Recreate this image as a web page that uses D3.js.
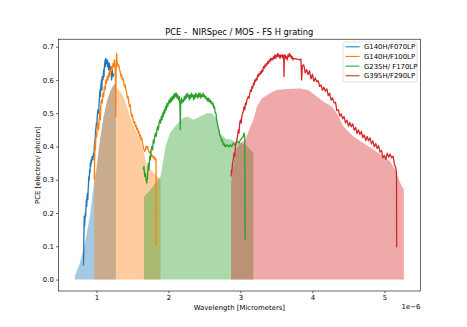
<!DOCTYPE html>
<html><head><meta charset="utf-8">
<script src="https://cdn.jsdelivr.net/npm/d3@7"></script>
<style>body{margin:0;background:#fff}text{font-family:"DejaVu Sans",sans-serif;fill:#000;white-space:pre}</style>
</head><body><svg id="c" width="467" height="327"></svg>
<script>
const seriesNames = ["G140H/F070LP","G140H/F100LP","G235H/ F170LP","G395H/F290LP"];
const seriesColors = ["#1f77b4","#ff7f0e","#2ca02c","#d62728"];
const xTicks = [1,2,3,4,5];
const yTicks = [0,0.1,0.2,0.3,0.4,0.5,0.6,0.7];

// smooth PCE (filled) curves, x in micrometers
const fillF070 = [[0.70,0],[0.70,0.01],[0.77,0.05],[0.84,0.11],[0.91,0.19],[0.96,0.28],[1.00,0.33],[1.05,0.42],[1.10,0.49],[1.15,0.54],[1.20,0.57],[1.25,0.59],[1.27,0.585],[1.27,0]];
const fillF100 = [[0.97,0],[0.97,0.30],[1.00,0.34],[1.05,0.42],[1.10,0.49],[1.15,0.54],[1.20,0.57],[1.25,0.585],[1.30,0.572],[1.35,0.56],[1.40,0.535],[1.45,0.50],[1.50,0.47],[1.55,0.445],[1.60,0.425],[1.65,0.39],[1.70,0.34],[1.75,0.33],[1.80,0.32],[1.85,0.31],[1.89,0.30],[1.89,0]];
const fillF170 = [[1.66,0],[1.66,0.25],[1.75,0.27],[1.85,0.30],[1.89,0.31],[1.93,0.36],[1.96,0.40],[2.02,0.44],[2.09,0.46],[2.19,0.484],[2.26,0.49],[2.35,0.48],[2.44,0.49],[2.53,0.50],[2.60,0.50],[2.67,0.484],[2.72,0.44],[2.79,0.424],[2.88,0.42],[2.95,0.41],[3.02,0.41],[3.10,0.40],[3.18,0.38],[3.18,0]];
const fillF290 = [[2.87,0],[2.87,0.29],[2.93,0.39],[3.00,0.41],[3.07,0.42],[3.12,0.45],[3.18,0.48],[3.23,0.52],[3.30,0.545],[3.41,0.56],[3.50,0.57],[3.64,0.573],[3.83,0.574],[3.94,0.57],[4.06,0.55],[4.15,0.535],[4.27,0.52],[4.34,0.50],[4.43,0.46],[4.57,0.43],[4.71,0.41],[4.85,0.39],[4.99,0.37],[5.08,0.355],[5.15,0.33],[5.22,0.29],[5.27,0.27],[5.27,0]];

// measured (noisy) PCE curves
const lineF070 = [[0.820,0.042],[0.825,0.12],[0.830,0.19],[0.835,0.16],[0.840,0.18],[0.845,0.20],[0.850,0.19],[0.855,0.22],[0.860,0.24],[0.865,0.22],[0.870,0.25],[0.875,0.26],[0.880,0.24],[0.885,0.27],[0.890,0.29],[0.895,0.31],[0.900,0.30],[0.905,0.33],[0.910,0.32],[0.915,0.35],[0.920,0.34],[0.925,0.36],[0.930,0.35],[0.940,0.37],[0.950,0.36],[0.960,0.38],[0.965,0.37],[0.970,0.40],[0.980,0.42],[0.990,0.45],[1.000,0.47],[1.005,0.46],[1.010,0.49],[1.020,0.51],[1.030,0.50],[1.040,0.54],[1.050,0.57],[1.055,0.55],[1.060,0.58],[1.070,0.60],[1.075,0.57],[1.080,0.61],[1.090,0.60],[1.100,0.63],[1.105,0.61],[1.110,0.64],[1.120,0.66],[1.125,0.64],[1.130,0.665],[1.140,0.65],[1.150,0.66],[1.155,0.64],[1.160,0.655],[1.170,0.63],[1.180,0.65],[1.190,0.62],[1.200,0.64],[1.210,0.60],[1.220,0.63],[1.230,0.61],[1.240,0.62]];
const lineF100 = [[0.970,0.30],[0.975,0.36],[0.980,0.41],[0.985,0.39],[0.990,0.42],[1.000,0.44],[1.005,0.43],[1.010,0.46],[1.020,0.47],[1.030,0.45],[1.040,0.49],[1.050,0.51],[1.055,0.48],[1.060,0.52],[1.070,0.54],[1.080,0.53],[1.090,0.56],[1.100,0.55],[1.110,0.58],[1.120,0.57],[1.130,0.60],[1.140,0.59],[1.150,0.61],[1.160,0.60],[1.170,0.62],[1.180,0.61],[1.190,0.63],[1.200,0.62],[1.210,0.64],[1.220,0.63],[1.230,0.65],[1.240,0.64],[1.250,0.66],[1.260,0.63],[1.265,0.59],[1.268,0.49],[1.272,0.62],[1.280,0.68],[1.285,0.66],[1.290,0.65],[1.300,0.64],[1.310,0.645],[1.320,0.63],[1.330,0.625],[1.340,0.61],[1.350,0.615],[1.360,0.60],[1.370,0.605],[1.380,0.59],[1.390,0.58],[1.400,0.585],[1.410,0.57],[1.420,0.56],[1.430,0.545],[1.440,0.55],[1.450,0.53],[1.460,0.52],[1.470,0.525],[1.480,0.50],[1.490,0.49],[1.500,0.495],[1.510,0.48],[1.520,0.47],[1.530,0.475],[1.540,0.46],[1.550,0.465],[1.560,0.45],[1.570,0.455],[1.580,0.44],[1.590,0.445],[1.600,0.43],[1.610,0.435],[1.620,0.42],[1.630,0.425],[1.640,0.41],[1.650,0.40],[1.660,0.39],[1.670,0.385],[1.680,0.39],[1.690,0.40],[1.700,0.395],[1.710,0.40],[1.720,0.39],[1.730,0.385],[1.740,0.38],[1.750,0.385],[1.760,0.37],[1.770,0.375],[1.780,0.37],[1.790,0.365],[1.800,0.37],[1.810,0.36],[1.820,0.365],[1.828,0.36],[1.830,0.10]];
const lineF170 = [[1.650,0.33],[1.660,0.34],[1.670,0.31],[1.680,0.32],[1.690,0.30],[1.700,0.29],[1.710,0.31],[1.720,0.35],[1.730,0.33],[1.740,0.37],[1.750,0.36],[1.760,0.39],[1.770,0.40],[1.780,0.39],[1.790,0.42],[1.800,0.41],[1.810,0.43],[1.820,0.44],[1.830,0.43],[1.840,0.45],[1.850,0.46],[1.860,0.45],[1.870,0.47],[1.880,0.48],[1.890,0.47],[1.900,0.49],[1.910,0.48],[1.920,0.50],[1.930,0.49],[1.940,0.51],[1.950,0.50],[1.960,0.52],[1.970,0.51],[1.980,0.53],[1.990,0.52],[2.000,0.53],[2.010,0.54],[2.020,0.53],[2.030,0.545],[2.040,0.535],[2.050,0.55],[2.060,0.54],[2.070,0.555],[2.080,0.545],[2.090,0.56],[2.100,0.55],[2.110,0.56],[2.120,0.545],[2.130,0.555],[2.140,0.54],[2.150,0.55],[2.160,0.52],[2.165,0.45],[2.170,0.53],[2.180,0.545],[2.190,0.53],[2.200,0.54],[2.210,0.535],[2.220,0.55],[2.230,0.54],[2.240,0.555],[2.250,0.545],[2.260,0.56],[2.270,0.55],[2.280,0.555],[2.290,0.54],[2.300,0.555],[2.310,0.545],[2.320,0.56],[2.330,0.55],[2.340,0.555],[2.350,0.54],[2.360,0.555],[2.370,0.545],[2.380,0.56],[2.390,0.55],[2.400,0.555],[2.410,0.545],[2.420,0.56],[2.430,0.55],[2.440,0.56],[2.450,0.545],[2.460,0.555],[2.470,0.55],[2.480,0.56],[2.490,0.55],[2.500,0.555],[2.510,0.545],[2.520,0.55],[2.530,0.54],[2.540,0.545],[2.550,0.535],[2.560,0.545],[2.570,0.535],[2.580,0.54],[2.590,0.53],[2.600,0.535],[2.610,0.525],[2.620,0.53],[2.630,0.515],[2.640,0.52],[2.650,0.50],[2.660,0.50],[2.670,0.48],[2.680,0.47],[2.690,0.455],[2.700,0.45],[2.710,0.435],[2.720,0.43],[2.730,0.425],[2.740,0.415],[2.750,0.42],[2.760,0.405],[2.770,0.41],[2.780,0.40],[2.790,0.405],[2.800,0.40],[2.820,0.405],[2.840,0.398],[2.860,0.405],[2.880,0.40],[2.900,0.41],[2.920,0.405],[2.940,0.41],[2.960,0.415],[2.980,0.41],[3.000,0.42],[3.020,0.425],[3.040,0.43],[3.050,0.44],[3.060,0.43],[3.065,0.12]];
const lineF290 = [[2.870,0.31],[2.875,0.33],[2.880,0.32],[2.890,0.35],[2.900,0.36],[2.910,0.38],[2.920,0.37],[2.930,0.40],[2.940,0.41],[2.950,0.42],[2.960,0.43],[2.970,0.45],[2.980,0.44],[2.990,0.47],[3.000,0.48],[3.010,0.47],[3.020,0.49],[3.030,0.50],[3.040,0.505],[3.050,0.52],[3.060,0.51],[3.070,0.53],[3.080,0.525],[3.090,0.54],[3.100,0.545],[3.110,0.55],[3.120,0.545],[3.130,0.56],[3.140,0.57],[3.150,0.565],[3.160,0.58],[3.170,0.575],[3.180,0.59],[3.190,0.585],[3.200,0.60],[3.210,0.595],[3.220,0.605],[3.230,0.60],[3.240,0.615],[3.250,0.61],[3.260,0.62],[3.270,0.615],[3.280,0.625],[3.290,0.62],[3.300,0.63],[3.310,0.625],[3.320,0.64],[3.330,0.635],[3.340,0.645],[3.350,0.64],[3.360,0.65],[3.370,0.645],[3.380,0.655],[3.390,0.65],[3.400,0.66],[3.410,0.655],[3.420,0.665],[3.430,0.66],[3.440,0.665],[3.450,0.66],[3.460,0.67],[3.470,0.665],[3.480,0.675],[3.490,0.665],[3.500,0.675],[3.510,0.67],[3.520,0.68],[3.530,0.67],[3.540,0.675],[3.550,0.665],[3.560,0.675],[3.570,0.67],[3.580,0.675],[3.590,0.665],[3.600,0.675],[3.605,0.61],[3.610,0.67],[3.620,0.675],[3.630,0.665],[3.640,0.67],[3.650,0.66],[3.660,0.675],[3.670,0.67],[3.680,0.68],[3.690,0.67],[3.700,0.675],[3.710,0.665],[3.720,0.67],[3.730,0.66],[3.740,0.665],[3.830,0.66],[3.840,0.663],[3.850,0.60],[3.860,0.643],[3.880,0.645],[3.900,0.621],[3.920,0.631],[3.940,0.616],[3.960,0.628],[3.980,0.603],[4.000,0.617],[4.020,0.596],[4.040,0.606],[4.060,0.594],[4.080,0.598],[4.100,0.581],[4.120,0.585],[4.140,0.569],[4.160,0.578],[4.180,0.566],[4.200,0.573],[4.220,0.553],[4.240,0.56],[4.260,0.539],[4.280,0.546],[4.300,0.531],[4.320,0.533],[4.340,0.508],[4.360,0.51],[4.380,0.491],[4.400,0.498],[4.420,0.483],[4.440,0.49],[4.460,0.471],[4.480,0.479],[4.500,0.461],[4.520,0.472],[4.540,0.459],[4.560,0.468],[4.580,0.449],[4.600,0.457],[4.620,0.439],[4.640,0.45],[4.660,0.436],[4.680,0.445],[4.700,0.427],[4.720,0.435],[4.740,0.418],[4.760,0.43],[4.780,0.417],[4.800,0.426],[4.820,0.408],[4.840,0.417],[4.860,0.399],[4.880,0.409],[4.900,0.394],[4.920,0.402],[4.940,0.383],[4.960,0.388],[4.980,0.366],[5.000,0.373],[5.020,0.361],[5.040,0.38],[5.060,0.368],[5.080,0.377],[5.100,0.366],[5.120,0.371],[5.140,0.346],[5.160,0.335],[5.168,0.32],[5.170,0.097]];

const fills = [fillF070, fillF100, fillF170, fillF290];
const lines = [lineF070, lineF100, lineF170, lineF290];

const svg = d3.select("#c");
const L = 58.4, R = 420.3, T = 39.2, B = 291;
const x = d3.scaleLinear().domain([0.4715, 5.4985]).range([L, R]);
const y = d3.scaleLinear().domain([-0.0344, 0.7224]).range([B, T]);

const area = d3.area().x(d => x(d[0])).y0(y(0)).y1(d => y(d[1]));
const line = d3.line().x(d => x(d[0])).y(d => y(d[1]));

const plot = svg.append("g");
fills.forEach((f, i) => {
  plot.append("path").attr("d", area(f)).attr("fill", seriesColors[i]).attr("fill-opacity", 0.4);
});
lines.forEach((l, i) => {
  plot.append("path").attr("d", line(l)).attr("fill", "none").attr("stroke", seriesColors[i])
    .attr("stroke-width", 1.3).attr("stroke-linejoin", "round");
});

const fs = 6.9;
const xAxis = svg.append("g").attr("transform", `translate(0,${B})`)
  .call(d3.axisBottom(x).tickValues(xTicks).tickFormat(d3.format("d")).tickSize(2.4).tickPadding(2.2));
const yAxis = svg.append("g").attr("transform", `translate(${L},0)`)
  .call(d3.axisLeft(y).tickValues(yTicks).tickFormat(d3.format(".1f")).tickSize(2.4).tickPadding(2.2));
[xAxis, yAxis].forEach(a => {
  a.select(".domain").remove();
  a.selectAll(".tick line").attr("stroke", "#000").attr("stroke-width", 0.6);
  a.selectAll(".tick text").attr("font-size", fs).attr("font-family", "DejaVu Sans").attr("fill", "#000");
});

svg.append("rect").attr("x", L).attr("y", T).attr("width", R - L).attr("height", B - T)
  .attr("fill", "none").attr("stroke", "#000").attr("stroke-width", 0.6);

svg.append("text").attr("x", (L + R) / 2).attr("y", 35).attr("text-anchor", "middle")
  .attr("font-size", 8.3).text("PCE -  NIRSpec / MOS - FS H grating");
svg.append("text").attr("x", (L + R) / 2).attr("y", 310).attr("text-anchor", "middle")
  .attr("font-size", fs).text("Wavelength [Micrometers]");
svg.append("text").attr("x", R).attr("y", 309).attr("text-anchor", "end")
  .attr("font-size", fs).text("1e\u22126");
svg.append("text").attr("transform", `translate(39.5,${(T + B) / 2}) rotate(-90)`).attr("text-anchor", "middle")
  .attr("font-size", fs).text("PCE [electron/ photon]");

// legend
const lg = svg.append("g");
lg.append("rect").attr("x", 343).attr("y", 42).attr("width", 74).attr("height", 40).attr("rx", 2)
  .attr("fill", "#fff").attr("fill-opacity", 0.8).attr("stroke", "#cccccc").attr("stroke-width", 0.6);
seriesNames.forEach((n, i) => {
  const yy = 46.8 + i * 9.65;
  lg.append("line").attr("x1", 345.5).attr("x2", 359.5).attr("y1", yy).attr("y2", yy)
    .attr("stroke", seriesColors[i]).attr("stroke-width", 1.05);
  lg.append("text").attr("x", 364).attr("y", yy + 2.5).attr("font-size", fs).text(n);
});
</script></body></html>
